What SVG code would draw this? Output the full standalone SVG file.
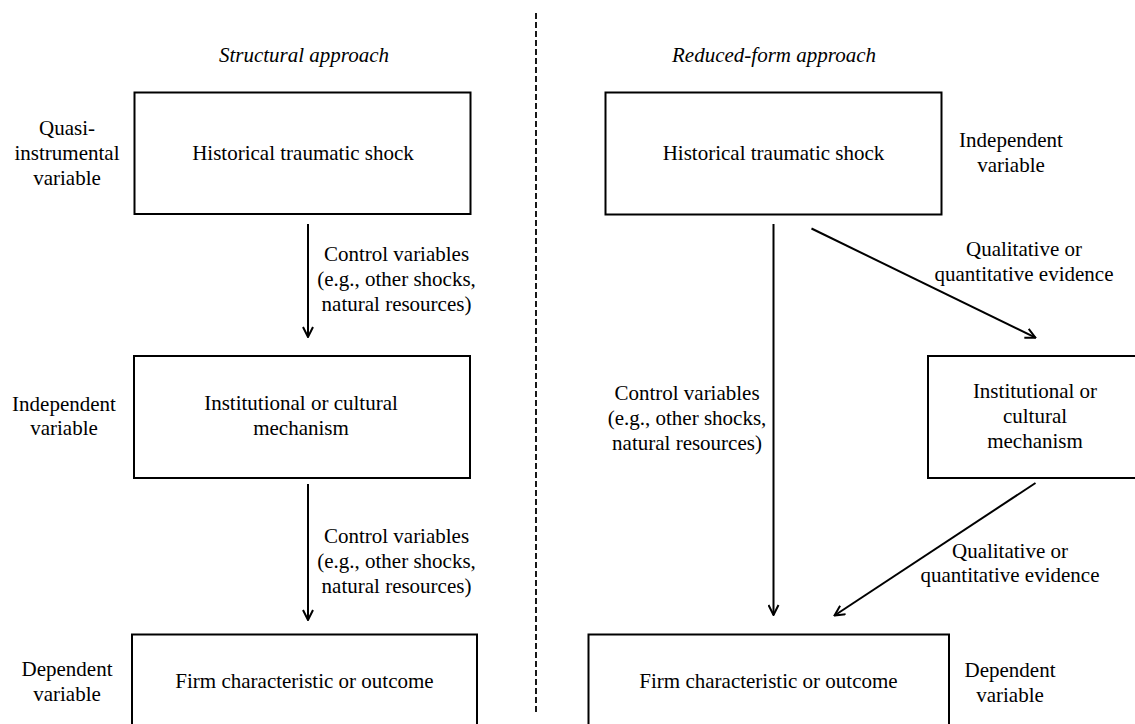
<svg xmlns="http://www.w3.org/2000/svg" width="1135" height="724" viewBox="0 0 1135 724">
<defs>
<style>
text{font-family:"Liberation Serif","Times New Roman",serif;font-size:21px;fill:#000;text-anchor:middle}
.it{font-style:italic}
.box{fill:#fff;stroke:#000;stroke-width:2}
.conn{stroke:#000;stroke-width:2;fill:none}
.div{stroke:#000;stroke-width:1.8;stroke-dasharray:6 3;fill:none}
</style>
<marker id="arr" viewBox="0 0 12 12" refX="11" refY="6" markerWidth="12" markerHeight="12" markerUnits="userSpaceOnUse" orient="auto">
<path d="M1,1 L11,6 L1,11" fill="none" stroke="#000" stroke-width="2"/>
</marker>
</defs>
<rect width="1135" height="724" fill="#fff"/>

<g id="headings">
<text class="it" x="304" y="62">Structural approach</text>
<text class="it" x="774" y="62">Reduced-form approach</text>
</g>

<g id="divider">
<line class="div" x1="536" y1="13" x2="536" y2="714"/>
</g>

<g id="connectors">
<line class="conn" x1="308" y1="224" x2="308" y2="337" marker-end="url(#arr)"/>
<line class="conn" x1="308" y1="484" x2="308" y2="620" marker-end="url(#arr)"/>
<line class="conn" x1="773.5" y1="224" x2="773.5" y2="615" marker-end="url(#arr)"/>
<line class="conn" x1="811.5" y1="228.5" x2="1035.5" y2="337.7" marker-end="url(#arr)"/>
<line class="conn" x1="1035.5" y1="483" x2="834.5" y2="615.5" marker-end="url(#arr)"/>
</g>

<g id="connector-labels">
<text x="396.5" y="261">Control variables</text>
<text x="396.5" y="286">(e.g., other shocks,</text>
<text x="396.5" y="311">natural resources)</text>
<text x="396.5" y="543">Control variables</text>
<text x="396.5" y="568">(e.g., other shocks,</text>
<text x="396.5" y="593">natural resources)</text>
<text x="687" y="400">Control variables</text>
<text x="687" y="425">(e.g., other shocks,</text>
<text x="687" y="450">natural resources)</text>
<text x="1024" y="256">Qualitative or</text>
<text x="1024" y="281">quantitative evidence</text>
<text x="1010" y="558">Qualitative or</text>
<text x="1010" y="582">quantitative evidence</text>
</g>

<g id="node-left-shock">
<rect class="box" x="134.5" y="92.5" width="336" height="121.5"/>
<text x="303" y="160">Historical traumatic shock</text>
</g>
<g id="node-left-mechanism">
<rect class="box" x="134" y="356" width="336" height="122"/>
<text x="301" y="410">Institutional or cultural</text>
<text x="301" y="435">mechanism</text>
</g>
<g id="node-left-outcome">
<rect class="box" x="132" y="634.5" width="345" height="100"/>
<text x="304.5" y="688">Firm characteristic or outcome</text>
</g>

<g id="node-right-shock">
<rect class="box" x="605.5" y="92.5" width="336" height="122"/>
<text x="773.5" y="160">Historical traumatic shock</text>
</g>
<g id="node-right-mechanism">
<rect class="box" x="928" y="356" width="215" height="122"/>
<text x="1035" y="398">Institutional or</text>
<text x="1035" y="423">cultural</text>
<text x="1035" y="448">mechanism</text>
</g>
<g id="node-right-outcome">
<rect class="box" x="588.5" y="634.5" width="360.5" height="100"/>
<text x="768.5" y="688">Firm characteristic or outcome</text>
</g>

<g id="role-labels">
<text x="67" y="135">Quasi-</text>
<text x="67" y="160">instrumental</text>
<text x="67" y="185">variable</text>
<text x="64" y="410.5">Independent</text>
<text x="64" y="435">variable</text>
<text x="67" y="676">Dependent</text>
<text x="67" y="701">variable</text>
<text x="1011" y="146.5">Independent</text>
<text x="1011" y="171.5">variable</text>
<text x="1010" y="676.5">Dependent</text>
<text x="1010" y="701.5">variable</text>
</g>
</svg>
